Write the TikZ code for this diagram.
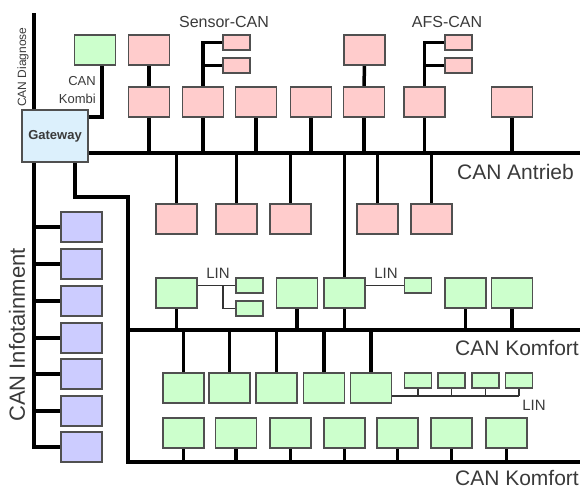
\documentclass[tikz,border=0pt]{standalone}
\usepackage{fontspec}
\setmainfont{Liberation Sans}
\usetikzlibrary{backgrounds}
\definecolor{pk}{HTML}{FFCCCC}
\definecolor{gr}{HTML}{CCFFCC}
\definecolor{bl}{HTML}{CCCCFF}
\definecolor{gwc}{HTML}{DCF0FC}
\definecolor{edge}{HTML}{505050}
\definecolor{txt}{HTML}{3A3A3A}
\begin{document}
\begin{tikzpicture}[x=1pt,y=-1pt,
  box/.style={draw=edge,line width=1.2pt,minimum width=41pt,minimum height=30pt,inner sep=0pt,outer sep=0pt},
  pkbox/.style={box,fill=pk}, grbox/.style={box,fill=gr}, blbox/.style={box,fill=bl},
  smallbox/.style={minimum width=27pt,minimum height=15pt},
  bus/.style={line width=4pt}, stub/.style={line width=3.5pt}, medbus/.style={line width=3.3pt},
  linline/.style={line width=1.2pt,draw=black!80},
  lbl/.style={text=txt,inner sep=0pt}]
\useasboundingbox (0,0) rectangle (582,490);
% gateway and kombi
\node[box,fill=gwc,minimum width=66pt,minimum height=52pt,font=\bfseries\fontsize{13}{15}\selectfont,text=txt] (gw) at (55,136) {Gateway};
\node[grbox] (kombi) at (95,50) {};
% pink row 1
\node[pkbox] (a1) at (149,50) {};
\node[pkbox] (a2) at (364.5,50) {};
\node[pkbox,smallbox] (s1) at (236.5,42.5) {};
\node[pkbox,smallbox] (s2) at (236.5,65.5) {};
\node[pkbox,smallbox] (f1) at (458.5,42.5) {};
\node[pkbox,smallbox] (f2) at (458.5,65.5) {};
% pink row 2
\foreach \n/\x in {b1/149,b2/203,b3/256,b4/311,b5/364,b6/424.5,b7/512}
  \node[pkbox] (\n) at (\x,102) {};
% pink row 3
\foreach \n/\x in {c1/176.5,c2/236.5,c3/290.5,c4/377.5,c5/431.5}
  \node[pkbox] (\n) at (\x,219) {};
% green row A
\foreach \n/\x in {g1/176.5,g2/297,g3/344.5,g4/465.5,g5/512}
  \node[grbox] (\n) at (\x,293) {};
\node[grbox,smallbox] (l1) at (249.5,285.5) {};
\node[grbox,smallbox] (l2) at (249.5,308.5) {};
\node[grbox,smallbox] (l3) at (418,285.5) {};
% row 4
\foreach \n/\x in {d1/183.5,d2/229.5,d3/276.5,d4/324,d5/371}
  \node[grbox] (\n) at (\x,388) {};
\foreach \n/\x in {m1/418,m2/451.5,m3/485.5,m4/519}
  \node[grbox,smallbox] (\n) at (\x,380.5) {};
% row 5
\foreach \n/\x in {e1/183.5,e2/236,e3/290.5,e4/344.5,e5/397.5,e6/451.5,e7/506.5}
  \node[grbox] (\n) at (\x,433) {};
% infotainment
\foreach \n/\y in {i1/227,i2/264,i3/301,i4/338,i5/374,i6/411,i7/447}
  \node[blbox] (\n) at (81.5,\y) {};
% coordinates
\coordinate (diagTop) at (34,13);
\coordinate (antE) at (580,153);
\coordinate (komE) at (580,330);
\coordinate (kom2E) at (580,462);
\coordinate (bend) at (128,197);
\coordinate (linE) at (519,396);
\coordinate (lb) at (223,285.5);
% connectors
\begin{pgfonlayer}{background}
\draw[bus] (diagTop) -- (diagTop |- i7.west) -- (i7.west);
\foreach \n in {i1,i2,i3,i4,i5,i6}
  \draw[stub] (diagTop |- \n.west) -- (\n.west);
\draw[bus] (gw.east |- antE) -- (antE);
\draw[stub] ([xshift=7pt]kombi.south) |- ([yshift=19pt]gw.east);
\draw[stub] ([xshift=20pt]gw.south) |- (bend) -- (bend |- kom2E) -- (kom2E);
\draw[medbus] (bend |- komE) -- (komE);
\draw[stub] (b2.north) -- (b2.north |- s1.west) -- (s1.west);
\draw[stub] (b2.north |- s2.west) -- (s2.west);
\draw[stub] (b6.north) -- (b6.north |- f1.west) -- (f1.west);
\draw[stub] (b6.north |- f2.west) -- (f2.west);
\draw[stub] (a1.south) -- (b1.north);
\draw[stub] (a2.south) -- (b5.north);
\foreach \n in {b1,b2,b3,b4,b5,b6,b7}
  \draw[stub] (\n.south) -- (\n.south |- antE);
\foreach \n in {c1,c2,c3,c4,c5}
  \draw[stub] (\n.north) -- (\n.north |- antE);
\draw[stub] (g3.north) -- (g3.north |- antE);
\foreach \n in {g1,g2,g3,g4,g5}
  \draw[stub] (\n.south) -- (\n.south |- komE);
\foreach \n in {d1,d2,d3,d4,d5}
  \draw[stub] (\n.north) -- (\n.north |- komE);
\foreach \n in {e1,e2,e3,e4,e5,e6,e7}
  \draw[stub] (\n.south) -- (\n.south |- kom2E);
\draw[linline] (g1.east |- l1.west) -- (l1.west);
\draw[linline] (lb) |- (l2.west);
\draw[linline] (g3.east |- l3.west) -- (l3.west);
\draw[linline] (d5.east |- linE) -- (linE);
\foreach \n in {m1,m2,m3,m4}
  \draw[linline] (\n.south) -- (\n.south |- linE);
\end{pgfonlayer}
% labels
\node[lbl,rotate=90,font=\fontsize{12}{14}\selectfont] (diag) at (23,67) {CAN Diagnose};
\node[lbl,align=right,anchor=east,font=\fontsize{13}{18}\selectfont] (kombilbl) at (96,90) {CAN\\Kombi};
\node[lbl,font=\fontsize{16}{19}\selectfont] (sensorlbl) at (224,22) {Sensor-CAN};
\node[lbl,font=\fontsize{16}{19}\selectfont] (afslbl) at (447,22) {AFS-CAN};
\node[lbl,anchor=east,font=\fontsize{21}{25}\selectfont] (antlbl) at (574,172) {CAN Antrieb};
\node[lbl,anchor=east,font=\fontsize{21}{25}\selectfont] (komlbl) at (579,348) {CAN Komfort};
\node[lbl,anchor=east,font=\fontsize{21}{25}\selectfont] (kom2lbl) at (579,478) {CAN Komfort};
\node[lbl,font=\fontsize{15}{18}\selectfont] (lin1) at (218,273) {LIN};
\node[lbl,font=\fontsize{15}{18}\selectfont] (lin2) at (386,273) {LIN};
\node[lbl,font=\fontsize{15}{18}\selectfont] (lin3) at (534,405) {LIN};
\node[lbl,rotate=90,font=\fontsize{22}{26}\selectfont] (infolbl) at (17,335) {CAN Infotainment};
\end{tikzpicture}
\end{document}
